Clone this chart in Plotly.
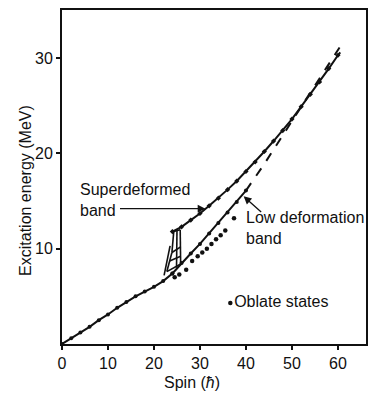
import plotly.graph_objects as go

# ---- data ----
yrast_spin = [0, 2, 4, 6, 8, 10, 12, 14, 16, 18, 20, 22, 24]
yrast_E = [0.0, 0.6, 1.2, 1.8, 2.5, 3.1, 3.8, 4.4, 5.0, 5.5, 6.0, 6.6, 7.4]

sd_spin = [24, 26, 28, 30, 32, 34, 36, 38, 40, 42, 44, 46, 48, 50, 52, 54, 56, 58, 60, 60.5]
sd_E = [11.8, 12.3, 13.0, 13.7, 14.5, 15.3, 16.2, 17.1, 18.1, 19.1, 20.2, 21.3, 22.4, 23.6, 24.9, 26.2, 27.5, 28.9, 30.3, 30.6]

low_spin = [24, 26, 28, 30, 32, 34, 36, 38, 40]
low_E = [7.4, 8.5, 9.5, 10.5, 11.6, 12.7, 13.8, 14.9, 16.1]

dash_spin = [40, 44, 48, 52, 56, 60, 61]
dash_E = [16.1, 18.9, 21.9, 24.9, 27.9, 30.9, 31.6]

oblate_spin = [24.5, 25.5, 27.0, 28.3, 29.5, 30.5, 31.5, 32.5, 33.5, 34.5, 35.5, 37.4]
oblate_E = [7.0, 7.3, 7.8, 8.7, 9.2, 9.6, 10.0, 10.5, 11.0, 11.4, 11.9, 13.2]

# decay-out transitions of the superdeformed band (from -> to)
decay_from_spin = [24.3, 24.3, 23.9, 25.7, 25.0, 23.9, 23.4, 22.8, 23.5]
decay_from_E = [11.8, 11.8, 9.6, 12.0, 11.9, 9.6, 8.7, 7.6, 10.3]
decay_to_spin = [25.7, 23.9, 22.8, 25.8, 24.9, 25.8, 25.8, 25.8, 22.2]
decay_to_E = [12.0, 9.6, 7.6, 8.4, 8.0, 10.2, 9.2, 8.4, 7.2]

legend_spin = [36.6]
legend_E = [4.3]

FONT = "Liberation Sans, Arial, sans-serif"
INK = "#111111"
FS = 16

fig = go.Figure()

dx, dy = [], []
for a, b, c, d in zip(decay_from_spin, decay_from_E, decay_to_spin, decay_to_E):
    dx += [a, c, None]
    dy += [b, d, None]
fig.add_trace(go.Scatter(x=dx, y=dy, mode="lines",
                         line=dict(color=INK, width=1.6), hoverinfo="skip"))

fig.add_trace(go.Scatter(x=yrast_spin, y=yrast_E, mode="lines+markers",
                         line=dict(color=INK, width=2),
                         marker=dict(color=INK, size=4)))
fig.add_trace(go.Scatter(x=sd_spin[:-1], y=sd_E[:-1], mode="markers",
                         marker=dict(color=INK, size=4, symbol="diamond")))
fig.add_trace(go.Scatter(x=sd_spin, y=sd_E, mode="lines",
                         line=dict(color=INK, width=2)))
fig.add_trace(go.Scatter(x=low_spin, y=low_E, mode="lines+markers",
                         line=dict(color=INK, width=2),
                         marker=dict(color=INK, size=4)))
fig.add_trace(go.Scatter(x=dash_spin, y=dash_E, mode="lines",
                         line=dict(color=INK, width=2, dash="dash")))
fig.add_trace(go.Scatter(x=oblate_spin, y=oblate_E, mode="markers",
                         marker=dict(color=INK, size=4.5)))
fig.add_trace(go.Scatter(x=legend_spin, y=legend_E, mode="markers+text",
                         marker=dict(color=INK, size=4.5),
                         text=["Oblate states"], textposition="middle right",
                         textfont=dict(family=FONT, size=FS, color=INK)))

fig.add_annotation(x=31.2, y=14.2, ax=-87, ay=0, xref="x", yref="y",
                   showarrow=True, arrowhead=2, arrowsize=1.2, arrowwidth=1.3,
                   arrowcolor=INK, text="")
fig.add_annotation(x=3.4, y=15.1, xref="x", yref="y", xanchor="left", yanchor="middle",
                   showarrow=False, align="left",
                   text="Superdeformed<br>band",
                   font=dict(family=FONT, size=FS, color=INK))
fig.add_annotation(x=39.5, y=15.5, ax=19, ay=17, xref="x", yref="y",
                   showarrow=True, arrowhead=2, arrowsize=1.2, arrowwidth=1.3,
                   arrowcolor=INK, text="")
fig.add_annotation(x=39.6, y=12.2, xref="x", yref="y", xanchor="left", yanchor="middle",
                   showarrow=False, align="left",
                   text="Low deformation<br>band",
                   font=dict(family=FONT, size=FS, color=INK))

# axis titles placed as in the reference
fig.add_annotation(x=-0.122, y=0.461, xref="paper", yref="paper", textangle=-90,
                   xanchor="center", yanchor="middle",
                   showarrow=False, text="Excitation energy (MeV)",
                   font=dict(family=FONT, size=FS, color=INK))
fig.add_annotation(x=0.428, y=-0.114, xref="paper", yref="paper",
                   xanchor="center", yanchor="middle",
                   showarrow=False, text="Spin (<i>ħ</i>)",
                   font=dict(family=FONT, size=FS, color=INK))

fig.update_layout(
    width=370, height=401,
    margin=dict(l=62, r=2, t=10, b=57),
    paper_bgcolor="white", plot_bgcolor="white",
    showlegend=False,
    font=dict(family=FONT, size=FS, color=INK),
    xaxis=dict(range=[0, 66.1], tickvals=[0, 10, 20, 30, 40, 50, 60],
               ticks="outside", ticklen=4, tickwidth=1.5, tickcolor=INK,
               showline=True, linecolor=INK, linewidth=2, mirror=True,
               showgrid=False, zeroline=False,
               tickfont=dict(family=FONT, size=FS, color=INK)),
    yaxis=dict(range=[0, 35.05], tickvals=[10, 20, 30],
               ticks="outside", ticklen=4, tickwidth=1.5, tickcolor=INK,
               showline=True, linecolor=INK, linewidth=2, mirror=True,
               showgrid=False, zeroline=False,
               tickfont=dict(family=FONT, size=FS, color=INK)),
)

fig.write_html("out.html")
